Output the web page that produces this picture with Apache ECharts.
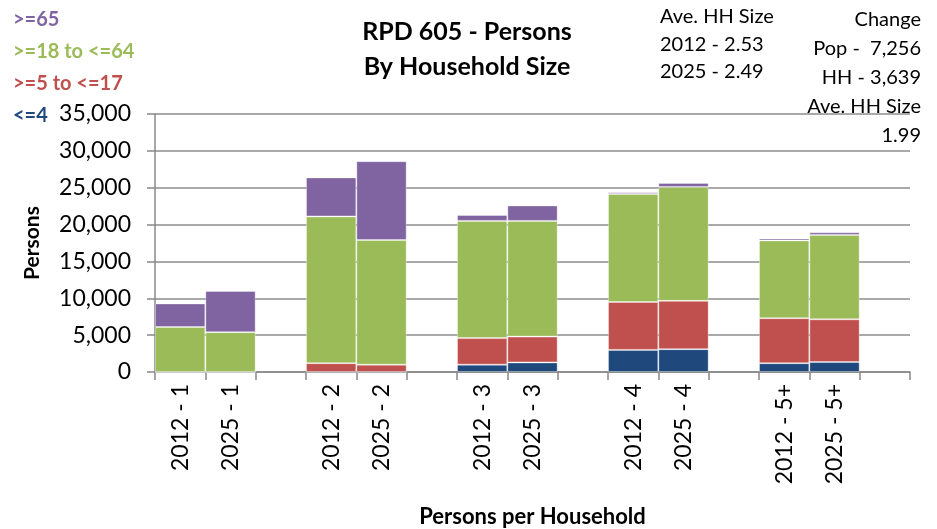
<!DOCTYPE html>
<html>
<head>
<meta charset="utf-8">
<script src="https://cdn.jsdelivr.net/npm/echarts@6/dist/echarts.min.js"></script>
<style>
  body { margin: 0; background: #fff; }
  #chart { width: 937px; height: 529px; }
</style>
</head>
<body>
<div id="chart"></div>
<script>
// categories, with empty slots as spacers between household sizes
var categories = ['2012 - 1', '2025 - 1', '', '2012 - 2', '2025 - 2', '', '2012 - 3', '2025 - 3', '',
  '2012 - 4', '2025 - 4', '', '2012 - 5+', '2025 - 5+', ''];
var seriesNames = ['<=4', '>=5 to <=17', '>=18 to <=64', '>=65'];
var under5 = [0, 0, null, 0, 0, null, 1000, 1300, null, 3000, 3100, null, 1200, 1350, null];
var age5to17 = [0, 0, null, 1200, 1000, null, 3600, 3500, null, 6500, 6550, null, 6100, 5800, null];
var age18to64 = [6100, 5400, null, 19900, 16900, null, 15900, 15700, null, 14650, 15450, null, 10550, 11450, null];
var over65 = [3200, 5600, null, 5300, 10700, null, 800, 2100, null, 230, 550, null, 270, 360, null];
var yTicks = [0, 5000, 10000, 15000, 20000, 25000, 30000, 35000];

var colors = ['#1F497D', '#C0504D', '#9BBB59', '#8064A2'];
var font = 'Lato, "Open Sans", sans-serif';

var chart = echarts.init(document.getElementById('chart'));
window.onresize = function () { chart.resize(); };

function fmt(v) {
  return String(v).replace(/\B(?=(\d{3})+(?!\d))/g, ',');
}

var values = [under5, age5to17, age18to64, over65];
var series = [];
for (var i = 0; i < values.length; i++) {
  series.push({
    name: seriesNames[i],
    type: 'bar',
    stack: 'total',
    data: values[i],
    barWidth: '100%',
    barCategoryGap: 0,
    itemStyle: {
      color: colors[i],
      borderColor: 'rgba(255,255,255,0.35)',
      borderWidth: 1
    }
  });
}

chart.setOption({
  animation: false,
  textStyle: { fontFamily: font },
  title: {
    text: 'RPD 605 - Persons\nBy Household Size',
    left: 462,
    top: 9,
    textAlign: 'center',
    textStyle: { fontSize: 25, fontWeight: 'bold', color: '#000', lineHeight: 35, fontFamily: font }
  },
  legend: {
    orient: 'vertical',
    left: 8,
    top: 5,
    itemWidth: 0,
    itemHeight: 0,
    itemGap: 12,
    icon: 'none',
    selectedMode: false,
    data: [
      { name: '>=65', textStyle: { color: colors[3] } },
      { name: '>=18 to <=64', textStyle: { color: colors[2] } },
      { name: '>=5 to <=17', textStyle: { color: colors[1] } },
      { name: '<=4', textStyle: { color: colors[0] } }
    ],
    textStyle: { fontSize: 20, fontWeight: 'bold', fontFamily: font, padding: [0, 0, 0, -5] }
  },
  grid: { left: 155, right: 27, top: 114, bottom: 156 },
  xAxis: {
    type: 'category',
    data: categories,
    name: 'Persons per Household',
    nameLocation: 'middle',
    nameGap: 134,
    nameTextStyle: { fontSize: 22, fontWeight: 'bold', color: '#000', fontFamily: font },
    axisLine: { lineStyle: { color: '#888', width: 1.5 } },
    axisTick: { show: true, length: 8, interval: 0, lineStyle: { color: '#888', width: 1.5 } },
    axisLabel: { interval: 0, rotate: 90, fontSize: 23, color: '#000', margin: 12 }
  },
  yAxis: {
    type: 'value',
    min: yTicks[0],
    max: yTicks[yTicks.length - 1],
    interval: 5000,
    name: 'Persons',
    nameLocation: 'middle',
    nameGap: 112,
    nameRotate: 90,
    nameTextStyle: { fontSize: 21, fontWeight: 'bold', color: '#000', fontFamily: font },
    axisLine: { show: true, lineStyle: { color: '#888', width: 1.5 } },
    axisTick: { show: true, length: 8, lineStyle: { color: '#888', width: 1.5 } },
    axisLabel: { fontSize: 23, color: '#000', margin: 24, formatter: fmt },
    splitLine: { lineStyle: { color: '#8c8c8c', width: 1.5 } }
  },
  graphic: [
    {
      type: 'text', x: 660, y: 3,
      style: { text: 'Ave. HH Size\n2012 - 2.53\n2025 - 2.49', fontSize: 20, lineHeight: 27.5, fill: '#000', fontFamily: font }
    },
    {
      type: 'text', x: 921, y: 5,
      style: { text: 'Change\nPop -  7,256\nHH - 3,639\nAve. HH Size\n1.99', fontSize: 20, lineHeight: 29, fill: '#000', align: 'right', textAlign: 'right', fontFamily: font }
    }
  ],
  series: series
});
</script>
</body>
</html>
